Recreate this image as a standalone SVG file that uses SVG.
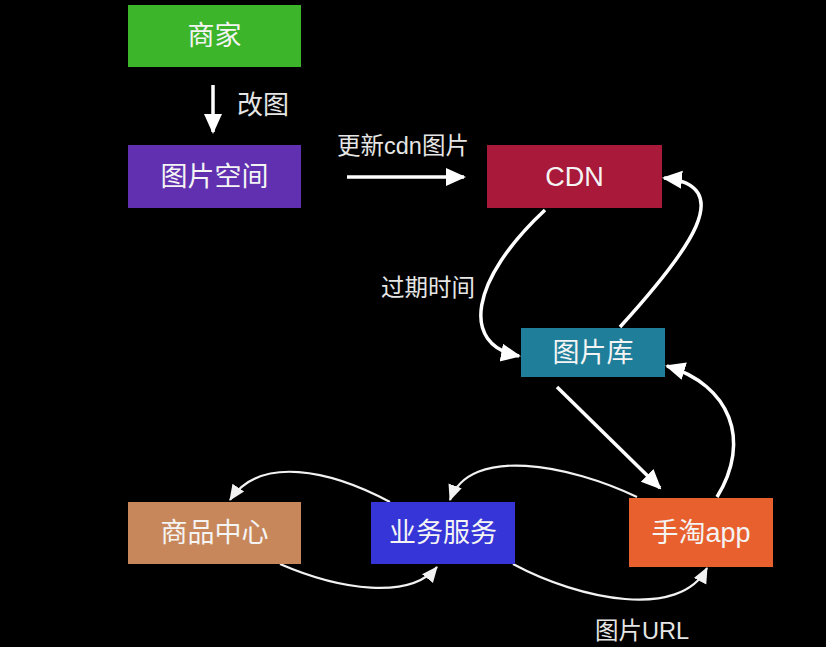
<svg xmlns="http://www.w3.org/2000/svg" width="826" height="647" viewBox="0 0 826 647">
<defs>
<style>
.node text{font-family:"Liberation Sans","Noto Sans CJK SC",sans-serif;font-size:27px;fill:#f4f4f4;text-anchor:middle;dominant-baseline:central}
.lbl{font-family:"Liberation Sans","Noto Sans CJK SC",sans-serif;font-size:23.5px;fill:#e6e6e6}
.thick{fill:none;stroke:#ffffff;stroke-width:3.5}
.thin{fill:none;stroke:#f2f2f2;stroke-width:2.2}
</style>
<marker id="ah" markerUnits="userSpaceOnUse" markerWidth="20" markerHeight="20" viewBox="0 0 20 20" refX="18" refY="10" orient="auto">
<path d="M0,1 L20,10 L0,19 z" fill="#ffffff"/>
</marker>
<marker id="as" markerUnits="userSpaceOnUse" markerWidth="16" markerHeight="16" viewBox="0 0 16 16" refX="15" refY="8" orient="auto">
<path d="M0,1 L16,8 L0,15 z" fill="#f2f2f2"/>
</marker>
</defs>
<rect width="826" height="647" fill="#000000"/>

<g id="connectors">
<line class="thick" x1="213" y1="85" x2="213" y2="132" marker-end="url(#ah)"/>
<line class="thick" x1="347" y1="177" x2="464" y2="177" marker-end="url(#ah)"/>
<path class="thick" d="M545,210 C470,280 460,345 519,356" marker-end="url(#ah)"/>
<path class="thick" d="M620,327 C690,250 738,185 664,178" marker-end="url(#ah)"/>
<line class="thick" x1="557" y1="387" x2="660" y2="488" marker-end="url(#ah)"/>
<path class="thick" d="M717,497 C752,440 730,385 667,366" marker-end="url(#ah)"/>
<path class="thin" d="M637,497 C570,465 470,445 450,500" marker-end="url(#as)"/>
<path class="thin" d="M390,502 C330,470 260,455 230,500" marker-end="url(#as)"/>
<path class="thin" d="M280,564 C340,590 410,600 437,567" marker-end="url(#as)"/>
<path class="thin" d="M513,564 C580,600 680,620 707,568" marker-end="url(#as)"/>
<text class="lbl" x="237" y="114" style="font-size:26px">改图</text>
<text class="lbl" x="337" y="154">更新cdn图片</text>
<text class="lbl" x="381" y="296">过期时间</text>
<text class="lbl" x="595" y="639">图片URL</text>
</g>

<g id="n-shangjia" class="node"><rect x="128" y="5" width="173" height="62" fill="#3cb52b"/><text x="214.5" y="36">商家</text></g>
<g id="n-tupiankongjian" class="node"><rect x="128" y="145" width="173" height="63" fill="#6030b0"/><text x="214.5" y="177">图片空间</text></g>
<g id="n-cdn" class="node"><rect x="487" y="145" width="175" height="63" fill="#a8193a"/><text x="574.5" y="177">CDN</text></g>
<g id="n-tupianku" class="node"><rect x="521" y="328" width="144" height="49" fill="#1f7f9a"/><text x="593" y="353">图片库</text></g>
<g id="n-shoutao" class="node"><rect x="629" y="498" width="144" height="69" fill="#e8602e"/><text x="701" y="533">手淘app</text></g>
<g id="n-shangpin" class="node"><rect x="128" y="502" width="173" height="62" fill="#c8875a"/><text x="214.5" y="533">商品中心</text></g>
<g id="n-yewu" class="node"><rect x="371" y="502" width="144" height="62" fill="#3535d8"/><text x="443" y="533">业务服务</text></g>
</svg>
